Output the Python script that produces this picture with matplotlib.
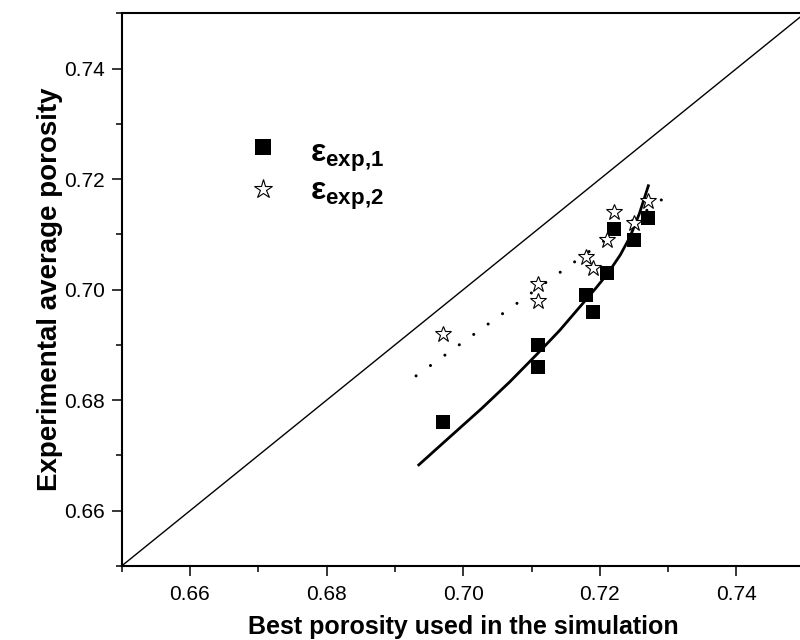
import matplotlib
matplotlib.use("Agg")
import matplotlib.pyplot as plt

plt.rcParams['font.family'] = ['Liberation Sans', 'DejaVu Sans']
plt.rcParams['mathtext.fontset'] = 'custom'
plt.rcParams['mathtext.rm'] = 'Liberation Sans:bold'
plt.rcParams['mathtext.bf'] = 'Liberation Sans:bold'
plt.rcParams['mathtext.it'] = 'Liberation Sans:bold'

# best porosity used in simulation (x), experimental porosity (y)
x_sim = [0.697, 0.711, 0.711, 0.718, 0.719, 0.721, 0.722, 0.725, 0.727]
eps_exp1 = [0.676, 0.686, 0.690, 0.699, 0.696, 0.703, 0.711, 0.709, 0.713]
eps_exp2 = [0.692, 0.701, 0.698, 0.706, 0.704, 0.709, 0.714, 0.712, 0.716]

# fitted curves
fit1_x = [0.6935, 0.6980, 0.7027, 0.7068, 0.7107, 0.7141, 0.7175, 0.7195,
          0.7212, 0.7230, 0.7244, 0.7258, 0.7271]
fit1_y = [0.6683, 0.6733, 0.6785, 0.6833, 0.6882, 0.6926, 0.6975, 0.7004,
          0.7030, 0.7063, 0.7095, 0.7138, 0.7188]
fit2_x = [0.6931, 0.7165, 0.7293]
fit2_y = [0.6844, 0.7052, 0.7165]

diag = [0.65, 0.75]

labels = [r'$\mathbf{\varepsilon_{exp{,}1}}$', r'$\mathbf{\varepsilon_{exp{,}2}}$']

fig = plt.figure(figsize=(8, 6.4), dpi=100)
ax = fig.add_axes([0.152, 0.1156, 0.854, 0.8636])

ax.plot(diag, diag, '-', color='black', lw=1.0)
ax.plot(fit1_x, fit1_y, '-', color='black', lw=2.0)
ax.plot(fit2_x, fit2_y, color='black', lw=2.2, dashes=[0.01, 5.8],
        dash_capstyle='round')

h1, = ax.plot(x_sim, eps_exp1, 's', color='black', ms=9.6, mew=0, ls='none')
h2, = ax.plot(x_sim, eps_exp2, '*', mfc='white', mec='black', mew=0.8,
              ms=12, ls='none')

ax.set_xlim(0.65, 0.75)
ax.set_ylim(0.65, 0.75)
ax.set_xticks([0.66, 0.68, 0.70, 0.72, 0.74])
ax.set_yticks([0.66, 0.68, 0.70, 0.72, 0.74])
ax.set_xticks([0.65, 0.67, 0.69, 0.71, 0.73, 0.75], minor=True)
ax.set_yticks([0.65, 0.67, 0.69, 0.71, 0.73, 0.75], minor=True)
ax.set_xticklabels(['0.66', '0.68', '0.70', '0.72', '0.74'])
ax.set_yticklabels(['0.66', '0.68', '0.70', '0.72', '0.74'])
ax.tick_params(which='major', direction='out', length=7, width=1.1,
               labelsize=15)
ax.tick_params(axis='x', which='major', pad=7)
ax.tick_params(axis='y', which='major', pad=5)
ax.tick_params(which='minor', direction='out', length=4.5, width=1.1)
for s in ax.spines.values():
    s.set_linewidth(1.5)

ax.set_xlabel('Best porosity used in the simulation', fontsize=18,
              fontweight='bold', labelpad=7.5)
ax.set_ylabel('Experimental average porosity', fontsize=20,
              fontweight='bold', labelpad=1)

# legend keys only, labels drawn as text next to them
leg = ax.legend([h1, h2], ['', ''], loc='center', bbox_to_anchor=(0.207, 0.7165),
                frameon=False, fontsize=16, handlelength=1.0,
                handletextpad=0.0, labelspacing=0.95, markerscale=1.15,
                borderpad=0)
ax.text(0.2756, 0.731, labels[0], transform=ax.transAxes, fontsize=23,
        va='baseline', ha='left')
ax.text(0.2756, 0.662, labels[1], transform=ax.transAxes, fontsize=23,
        va='baseline', ha='left')

fig.savefig('out.png', dpi=100)
